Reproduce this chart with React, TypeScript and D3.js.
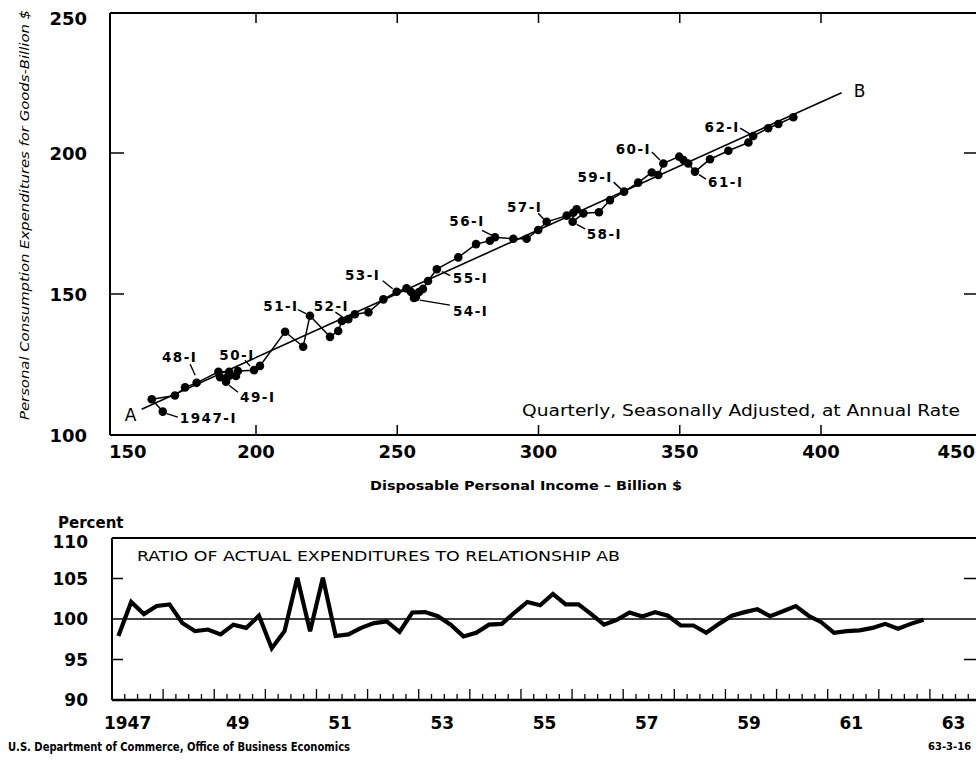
import React from "react";
import * as d3 from "d3";

// ---------- DATA ----------
const quarterLabels: string[] = [];
for (let y = 1947; y <= 1962; y++) for (const q of ["I", "II", "III", "IV"]) quarterLabels.push(`${y}-${q}`);

// Disposable personal income, billion $
const income = [
  167.0, 163.1, 171.3, 174.9, 179.0, 186.7, 190.5, 192.9,
  189.4, 187.3, 190.1, 193.6, 199.3, 201.4, 210.3, 216.7,
  219.1, 226.2, 229.1, 230.4, 232.7, 235.0, 239.8, 245.1,
  249.8, 253.3, 254.9, 255.9, 256.6, 257.7, 259.1, 260.9,
  264.0, 271.6, 277.9, 282.8, 284.6, 291.1, 295.8, 299.9,
  302.9, 310.0, 313.5, 312.3, 312.1, 315.9, 321.4, 325.3,
  330.3, 335.3, 340.1, 342.4, 344.2, 349.8, 351.3, 353.0,
  355.4, 360.7, 367.2, 374.3, 376.0, 381.3, 384.9, 390.2,
];
// Personal consumption expenditures for goods, billion $
const goods = [
  108.3, 112.7, 114.0, 116.9, 118.5, 122.4, 122.4, 120.9,
  118.9, 120.5, 120.9, 122.7, 123.0, 124.5, 136.6, 131.3,
  142.3, 134.8, 136.9, 140.4, 141.1, 142.8, 143.5, 148.1,
  150.8, 152.0, 150.7, 148.6, 148.9, 150.7, 151.8, 154.6,
  158.8, 163.0, 167.7, 168.9, 170.1, 169.6, 169.6, 172.7,
  175.6, 177.8, 180.0, 178.8, 175.6, 178.6, 179.0, 183.3,
  186.3, 189.5, 193.1, 192.2, 196.3, 198.7, 197.5, 196.3,
  193.4, 197.8, 200.8, 203.7, 206.0, 208.8, 210.3, 212.7,
];
// Ratio of actual expenditures to relationship AB, percent
const ratio = [
  97.9, 102.1, 100.6, 101.6, 101.8, 99.5, 98.5, 98.7,
  98.1, 99.3, 98.9, 100.4, 96.4, 98.5, 105.1, 98.5,
  105.1, 97.9, 98.1, 98.9, 99.5, 99.7, 98.4, 100.8,
  100.85, 100.35, 99.3, 97.85, 98.3, 99.3, 99.4, 100.8,
  102.1, 101.7, 103.1, 101.8, 101.8, 100.6, 99.3, 99.9,
  100.8, 100.3, 100.85, 100.4, 99.2, 99.2, 98.3, 99.4,
  100.4, 100.85, 101.2, 100.35, 100.95, 101.6, 100.4, 99.6,
  98.3, 98.5, 98.6, 98.9, 99.4, 98.8, 99.4, 99.9,
];
// Relationship AB end points (income, goods)
const abIncome = [159.5, 407.3];
const abGoods = [109.1, 221.4];

const incomeTicks = [150, 200, 250, 300, 350, 400, 450];
const goodsTicks = [100, 150, 200, 250];
const ratioTicks = [90, 95, 100, 105, 110];
const yearTicks = [1947, 1949, 1951, 1953, 1955, 1957, 1959, 1961, 1963];
const yearTickText = ["1947", "49", "51", "53", "55", "57", "59", "61", "63"];
const annotatedQuarters = [0, 4, 8, 12, 16, 20, 24, 28, 32, 36, 40, 44, 48, 52, 56, 60];
const annotationText = ["1947-I", "48-I", "49-I", "50-I", "51-I", "52-I", "53-I", "54-I", "55-I", "56-I", "57-I", "58-I", "59-I", "60-I", "61-I", "62-I"];

// ---------- LAYOUT (label placement relative to point, px) ----------
const annLayout: { dx: number; dy: number; anchor: string; l: number[] }[] = [
  { dx: 17, dy: 6, anchor: "start", l: [4, 2, 15, 5.5] },
  { dx: -17, dy: -26, anchor: "middle", l: [-6.5, -18.5, -1.5, -7.5] },
  { dx: 14, dy: 15, anchor: "start", l: [3, 3.5, 12, 10.5] },
  { dx: -17, dy: -15, anchor: "middle", l: [-9, -10, -4, -4] },
  { dx: -29, dy: -10, anchor: "middle", l: [-12, -6, -4, -2] },
  { dx: -17, dy: -13, anchor: "middle", l: [-13, -7, -5, -1.5] },
  { dx: -34, dy: -17, anchor: "middle", l: [-14, -11, -4, -3] },
  { dx: 37, dy: 14, anchor: "start", l: [4, 3, 34, 8] },
  { dx: 16, dy: 9, anchor: "start", l: [5, 2.5, 13.5, 6.5] },
  { dx: -28, dy: -16, anchor: "middle", l: [-13, -7, -2, -1.5] },
  { dx: -22, dy: -15, anchor: "middle", l: [-8.5, -8.5, -2, -1.5] },
  { dx: 14, dy: 12, anchor: "start", l: [4, 2.5, 12.5, 7] },
  { dx: -29, dy: -15, anchor: "middle", l: [-10.5, -9.5, -3, -2.5] },
  { dx: -30, dy: -14, anchor: "middle", l: [-11.5, -11.5, -3.5, -3.5] },
  { dx: 13, dy: 10, anchor: "start", l: [4, 3, 11, 7.5] },
  { dx: -31, dy: -9, anchor: "middle", l: [-13, -8, -3, -2] },
];

const FONT = "'DejaVu Sans', 'Liberation Sans', sans-serif";

export default function App() {
  // top panel scales
  const x = d3.scaleLinear().domain([150, 450]).range([114.75, 962.25]);
  const y = d3.scaleLinear().domain([100, 250]).range([435, 12]);
  const frameL = 110, frameR = 980, frameT = 13, frameB = 435;

  // bottom panel scales
  const t = d3.scaleLinear().domain([1947, 1964]).range([112, 112 + 17 * 51.12]);
  const r = d3.scaleLinear().domain([90, 110]).range([700, 538]);
  const bL = 112, bR = 980;

  const pts = income.map((v, i) => [x(v), y(goods[i])] as [number, number]);
  const traj = d3.line()(pts) || "";
  const ratioPath = d3.line<number>()
    .x((_, i) => t(1947 + (i + 0.5) / 4))
    .y((d) => r(d))
    .curve(d3.curveLinear)(ratio) || "";

  const quarterTicks = d3.range(0, 17 * 4 + 1).map((k) => 1947 + k / 4);

  return (
    <svg width={976} height={760} style={{ position: "absolute", left: 0, top: 0, background: "#fff" }}>
      <rect x={0} y={0} width={976} height={760} fill="#fff" />
      {/* ---------- top panel ---------- */}
      <g stroke="#000" fill="none">
        <line x1={frameL} y1={frameT} x2={frameR} y2={frameT} strokeWidth={2} />
        <line x1={frameL} y1={frameT} x2={frameL} y2={frameB} strokeWidth={2} />
        <line x1={frameL} y1={frameB} x2={frameR} y2={frameB} strokeWidth={2} />
        <line x1={frameR - 2} y1={frameT} x2={frameR - 2} y2={frameB} strokeWidth={2} />
        {incomeTicks.slice(1, -1).map((v) => (
          <g key={v}>
            <line x1={x(v)} x2={x(v)} y1={frameT} y2={frameT + 10} strokeWidth={1.5} />
            <line x1={x(v)} x2={x(v)} y1={frameB} y2={frameB - 10} strokeWidth={1.5} />
          </g>
        ))}
        {goodsTicks.slice(1, -1).map((v) => (
          <g key={v}>
            <line x1={frameL} x2={frameL + 14} y1={y(v)} y2={y(v)} strokeWidth={1.5} />
            <line x1={frameR - 16} x2={frameR} y1={y(v)} y2={y(v)} strokeWidth={1.5} />
          </g>
        ))}
      </g>
      {/* axis labels */}
      <g fontFamily={FONT} fontWeight="bold" fontSize={18} fill="#000">
        {incomeTicks.map((v, i) => (
          <text key={v} x={i === 0 ? x(v) + 13 : i === incomeTicks.length - 1 ? 975 : x(v)} y={458}
            textAnchor={i === incomeTicks.length - 1 ? "end" : "middle"}>{v}</text>
        ))}
        {goodsTicks.map((v) => (
          <text key={v} x={87} y={Math.min(Math.max(y(v), 18), 435) + 7} textAnchor="end">{v}</text>
        ))}
      </g>
      <text
        transform={`translate(29,215) rotate(-90)`}
        fontFamily={FONT} fontStyle="italic" fontSize={13} textAnchor="middle"
        textLength={410} lengthAdjust="spacingAndGlyphs"
      >
        Personal Consumption Expenditures for Goods-Billion $
      </text>
      <text x={526} y={490} fontFamily={FONT} fontWeight="bold" fontSize={13} textAnchor="middle"
        textLength={312} lengthAdjust="spacingAndGlyphs">
        Disposable Personal Income – Billion $
      </text>

      {/* AB line */}
      <line x1={x(abIncome[0])} y1={y(abGoods[0])} x2={x(abIncome[1])} y2={y(abGoods[1])} stroke="#000" strokeWidth={1.6} />
      <text x={x(abIncome[0]) - 11} y={y(abGoods[0]) + 12} fontFamily={FONT} fontSize={17} textAnchor="middle">A</text>
      <text x={x(abIncome[1]) + 18} y={y(abGoods[1]) + 4} fontFamily={FONT} fontSize={17} textAnchor="middle">B</text>

      {/* trajectory */}
      <path d={traj} fill="none" stroke="#000" strokeWidth={1.5} />
      {pts.map((p, i) => (
        <circle key={i} cx={p[0]} cy={p[1]} r={4.3} fill="#000" />
      ))}
      {annotatedQuarters.map((qi, k) => {
        const p = pts[qi];
        const L = annLayout[k];
        return (
          <g key={qi}>
            <line x1={p[0] + L.l[0]} y1={p[1] + L.l[1]} x2={p[0] + L.l[2]} y2={p[1] + L.l[3]} stroke="#000" strokeWidth={1.4} />
            <text x={p[0] + L.dx} y={p[1] + L.dy + 5} textAnchor={L.anchor} fontFamily={FONT} fontWeight="bold" fontSize={13.5} letterSpacing={1.5}>
              {annotationText[k]}
            </text>
          </g>
        );
      })}
      <text x={960} y={416} fontFamily={FONT} fontSize={15.5} textAnchor="end" textLength={438} lengthAdjust="spacingAndGlyphs">
        Quarterly, Seasonally Adjusted, at Annual Rate
      </text>

      {/* ---------- bottom panel ---------- */}
      <text x={58} y={528} fontFamily={FONT} fontWeight="bold" fontSize={15}>Percent</text>
      <g stroke="#000" fill="none">
        <line x1={bL} y1={r(110)} x2={bR} y2={r(110)} strokeWidth={2} />
        <line x1={bL} y1={r(110)} x2={bL} y2={r(90)} strokeWidth={2} />
        <line x1={bL} y1={r(90)} x2={bR} y2={r(90)} strokeWidth={2.5} />
        <line x1={bL} y1={r(100)} x2={bR} y2={r(100)} strokeWidth={1.5} />
        {[95, 105].map((v) => (
          <g key={v}>
            <line x1={bL} x2={bL + 11} y1={r(v)} y2={r(v)} strokeWidth={1.5} />
            <line x1={bR - 16} x2={bR} y1={r(v)} y2={r(v)} strokeWidth={1.5} />
          </g>
        ))}
        {quarterTicks.map((q, k) => (
          <line key={k} x1={t(q)} x2={t(q)} y1={r(90)} y2={r(90) - (k % 4 === 0 ? 11 : 6)} strokeWidth={1.3} />
        ))}
      </g>
      <g fontFamily={FONT} fontWeight="bold" fontSize={17} fill="#000">
        {ratioTicks.map((v) => (
          <text key={v} x={88} y={r(v) + (v === 110 ? 10 : 6)} textAnchor="end">{v}</text>
        ))}
        {yearTicks.map((yr, i) => (
          <text key={yr} x={t(yr + 0.5) - (i === 0 ? 10 : 2)} y={729} textAnchor="middle">{yearTickText[i]}</text>
        ))}
      </g>
      <text x={137} y={561} fontFamily={FONT} fontSize={14} textLength={483} lengthAdjust="spacingAndGlyphs">
        RATIO OF ACTUAL EXPENDITURES TO RELATIONSHIP AB
      </text>
      <path d={ratioPath} fill="none" stroke="#000" strokeWidth={4.2} strokeLinejoin="miter" />

      {/* footer */}
      <text x={8} y={751} fontFamily={FONT} fontWeight="bold" fontSize={13} textLength={342} lengthAdjust="spacingAndGlyphs">
        U.S. Department of Commerce, Office of Business Economics
      </text>
      <text x={928} y={750} fontFamily={FONT} fontWeight="bold" fontSize={10}>63-3-16</text>
    </svg>
  );
}
